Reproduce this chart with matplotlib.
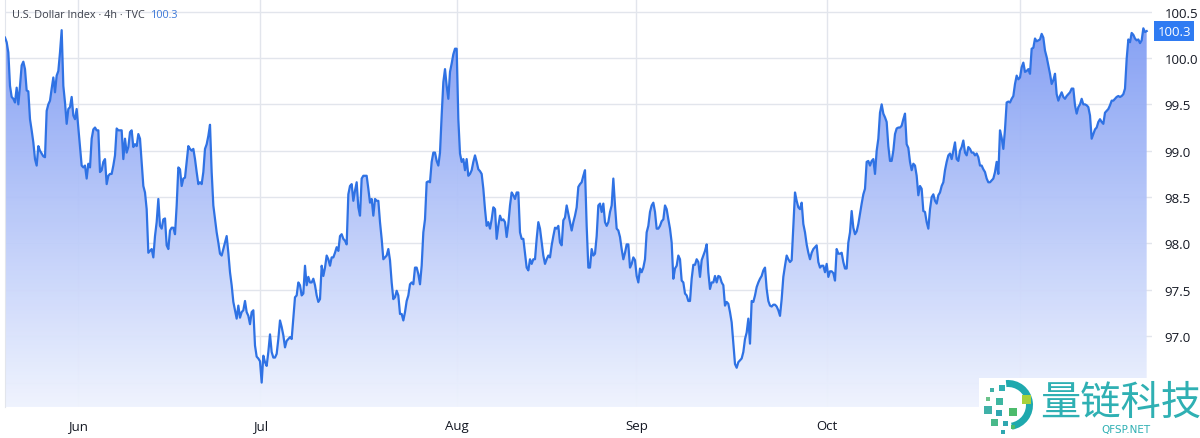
import numpy as np
import matplotlib
matplotlib.use("Agg")
import matplotlib.pyplot as plt
from matplotlib.patches import Rectangle, Wedge
from matplotlib.colors import LinearSegmentedColormap

# ---------------- data (U.S. Dollar Index, 4h bars) ----------------
price = [
    100.22, 100.17, 100.06, 99.70, 99.58, 99.56, 99.52, 99.68, 99.50, 99.70, 99.92,
    99.96, 99.88, 99.65, 99.64, 99.34, 99.22, 99.09, 98.91, 98.84, 99.05, 99.00,
    98.97, 98.94, 98.93, 99.43, 99.50, 99.54, 99.67, 99.79, 99.63, 99.81, 99.86,
    100.06, 100.30, 99.70, 99.52, 99.29, 99.45, 99.47, 99.58, 99.38, 99.34, 99.45,
    99.25, 99.05, 98.84, 98.82, 98.84, 98.70, 98.86, 98.82, 99.13, 99.23, 99.25,
    99.22, 99.22, 98.77, 98.79, 98.88, 98.91, 98.64, 98.73, 98.75, 98.75, 98.84,
    98.95, 99.24, 99.22, 99.22, 99.22, 98.91, 99.13, 98.98, 99.04, 99.20, 99.22,
    99.04, 99.07, 99.05, 99.18, 99.13, 98.88, 98.62, 98.55, 98.37, 97.90, 97.92,
    97.94, 97.85, 98.08, 98.23, 98.48, 98.19, 98.16, 98.26, 98.27, 97.98, 97.94,
    98.14, 98.17, 98.17, 98.10, 98.41, 98.82, 98.80, 98.62, 98.70, 98.71, 98.88,
    99.05, 99.02, 99.00, 99.02, 98.91, 98.77, 98.64, 98.66, 98.64, 98.77, 99.02,
    99.07, 99.16, 99.28, 98.77, 98.41, 98.26, 98.12, 98.01, 97.89, 97.87, 97.94,
    98.01, 98.08, 97.90, 97.69, 97.55, 97.37, 97.28, 97.19, 97.33, 97.20, 97.26,
    97.28, 97.38, 97.26, 97.22, 97.13, 97.26, 97.28, 96.90, 96.78, 96.76, 96.73,
    96.50, 96.79, 96.72, 96.68, 96.83, 97.02, 96.83, 96.77, 96.77, 96.81, 96.97,
    97.17, 97.10, 97.01, 96.88, 96.95, 96.97, 96.99, 96.97, 97.19, 97.42, 97.44,
    97.58,
    97.55, 97.44, 97.46, 97.76, 97.55, 97.64, 97.58, 97.58, 97.62, 97.55, 97.44,
    97.37, 97.40, 97.76, 97.65, 97.74, 97.87, 97.83, 97.76, 97.85, 97.85, 97.90,
    97.96, 97.92, 98.08, 98.10, 98.05, 98.03, 97.99, 98.53, 98.62, 98.64, 98.46,
    98.57, 98.66, 98.39, 98.30, 98.70, 98.73, 98.73, 98.73, 98.59, 98.44, 98.48,
    98.30, 98.48, 98.46, 98.46, 98.23, 98.05, 97.83, 97.85, 97.87, 97.94, 97.82,
    97.58, 97.40, 97.42, 97.49, 97.44, 97.24, 97.24, 97.17, 97.26, 97.38, 97.44,
    97.56, 97.58, 97.56, 97.74, 97.74, 97.67, 97.56, 97.76, 98.12, 98.26, 98.66,
    98.67, 98.66, 98.88, 98.98, 98.98, 98.89, 98.84, 98.98, 99.38, 99.74, 99.88,
    99.70, 99.56, 99.85, 99.94, 100.04, 100.10, 100.10, 99.34, 98.97, 98.88, 98.91,
    98.79, 98.91, 98.73, 98.75, 98.79, 98.88, 98.95, 98.88, 98.80, 98.78, 98.75,
    98.59, 98.37, 98.19, 98.23, 98.16, 98.26, 98.39, 98.37, 98.05, 98.19, 98.30,
    98.25, 98.26, 98.23, 98.07, 98.21, 98.41, 98.55, 98.52, 98.48, 98.55, 98.55,
    98.12, 98.05, 98.05, 97.90, 97.74, 97.71, 97.83, 97.78, 97.83, 97.83, 98.05,
    98.23, 98.16, 98.01, 97.87, 97.78, 97.83, 97.87, 97.85, 97.98, 98.08, 98.17,
    98.16, 98.19, 98.01, 97.98, 98.25, 98.28, 98.41, 98.32, 98.23, 98.14, 98.23,
    98.30, 98.39, 98.61, 98.64, 98.66, 98.73, 98.79, 98.19, 97.74, 97.74, 97.94,
    97.87, 97.89, 98.08, 98.41,
    98.43, 98.34, 98.43, 98.23, 98.19, 98.23, 98.34, 98.41, 98.70, 98.41, 98.16,
    98.14, 98.07, 97.94, 97.83, 97.90, 97.99, 97.99, 97.74, 97.78, 97.85, 97.82,
    97.65, 97.58, 97.73, 97.69, 97.74, 97.83, 98.12, 98.19, 98.34, 98.41, 98.44,
    98.34, 98.16, 98.16, 98.19, 98.24, 98.26, 98.41, 98.37, 98.26, 98.16, 98.01,
    97.62, 97.73, 97.76, 97.87, 97.83, 97.60, 97.58, 97.46, 97.44, 97.38, 97.38,
    97.62, 97.77, 97.77, 97.83, 97.80, 97.64, 97.82, 97.87, 97.92, 97.99, 97.69,
    97.51, 97.58, 97.58, 97.65, 97.58, 97.65, 97.64, 97.58, 97.55, 97.33, 97.37,
    97.35, 97.26, 97.15, 96.92, 96.70, 96.66, 96.72, 96.74, 96.76, 96.83, 96.97,
    97.04, 97.19, 96.92, 97.38, 97.37, 97.44, 97.53, 97.58, 97.62, 97.65, 97.71,
    97.74, 97.51, 97.38, 97.33, 97.32, 97.34, 97.34, 97.32, 97.28, 97.22, 97.40,
    97.64, 97.76, 97.87, 97.83, 97.80, 97.82, 98.19, 98.55, 98.46, 98.39, 98.37,
    98.44, 98.21, 98.12, 97.99, 97.90, 97.83, 97.90, 97.94, 97.96, 97.98, 97.80,
    97.74, 97.76, 97.76, 97.69, 97.78, 97.64, 97.70, 97.70, 97.68, 97.60, 97.94,
    97.89, 97.89, 97.90, 97.80, 97.73, 97.73, 98.01, 98.12, 98.35, 98.17, 98.10,
    98.13, 98.21, 98.32, 98.43, 98.53, 98.59, 98.88, 98.89, 98.84, 98.89, 98.91,
    98.75, 99.00, 99.13, 99.41, 99.50, 99.40, 99.36, 99.31, 99.05, 98.89, 98.89,
    99.00, 99.18, 99.24, 99.25,
    99.25, 99.27, 99.34, 99.40, 99.07, 99.03, 98.88, 98.79, 98.86, 98.84, 98.73,
    98.52, 98.62, 98.59, 98.35, 98.34, 98.23, 98.16, 98.37, 98.50, 98.53, 98.46,
    98.43, 98.52, 98.55, 98.62, 98.66, 98.79, 98.88, 98.95, 98.97, 98.91, 99.00,
    99.09, 98.91, 98.89, 99.00, 99.04, 99.11, 98.98, 98.95, 99.04, 99.02, 98.98,
    98.98, 98.95, 98.97, 98.93, 98.84, 98.84, 98.80, 98.77, 98.70, 98.66, 98.66,
    98.68, 98.70, 98.77, 98.88, 98.75, 99.22, 99.14, 99.02, 99.23, 99.52, 99.53,
    99.52, 99.56, 99.59, 99.72, 99.81, 99.77, 99.79, 99.90, 99.95, 99.85, 99.86,
    99.88, 99.83, 100.10, 100.11, 100.21, 100.18, 100.19, 100.20, 100.26, 100.22,
    100.08, 100.01, 99.92, 99.83, 99.72, 99.76, 99.83, 99.61, 99.54, 99.59, 99.63,
    99.58, 99.56, 99.59, 99.61, 99.63, 99.67, 99.67, 99.49, 99.40, 99.47, 99.50,
    99.56, 99.50, 99.50, 99.49, 99.47, 99.38, 99.13, 99.18, 99.23, 99.25, 99.31,
    99.34, 99.31, 99.29, 99.41, 99.43, 99.45, 99.49, 99.54, 99.54, 99.56, 99.58,
    99.59, 99.58, 99.59, 99.61, 99.67, 99.99, 100.20, 100.17, 100.27, 100.25, 100.21,
    100.19, 100.20, 100.16, 100.19, 100.32, 100.28, 100.29,
]

# bar index at which each month starts (trading bars)
month_labels = ["Jun", "Jul", "Aug", "Sep", "Oct", "Nov"]
month_starts = [43.6, 153.2, 271.2, 378.8, 493.0, 609.2]

y_ticks = [96.5, 97.0, 97.5, 98.0, 98.5, 99.0, 99.5, 100.0, 100.5]
y_tick_labels = ["96.5", "97.0", "97.5", "98.0", "98.5", "99.0", "99.5", "100.0", "100.5"]

title_text = "U.S. Dollar Index · 4h · TVC"
last_label = "100.3"

# ---------------- figure ----------------
W, H = 1200, 439
fig = plt.figure(figsize=(W / 100, H / 100), dpi=100)
fig.patch.set_facecolor("white")

def fx(px):
    return px / W

def fy(py):
    return 1 - py / H

ax = fig.add_axes([fx(5), fy(408), fx(1152) - fx(5), 408 / H])
ax.set_facecolor("white")

x = np.arange(len(price))
y = np.array(price)

ymin, ymax = 96.237, 100.636
ax.set_xlim(0, 688.2)
ax.set_ylim(ymin, ymax)

# grid
grid_c = "#E2E5EC"
for t in y_ticks:
    ax.axhline(t, color=grid_c, lw=1.0, zorder=0)
for m in month_starts:
    ax.axvline(m, color=grid_c, lw=1.0, zorder=0)

# gradient area
cmap = LinearSegmentedColormap.from_list(
    "area", [(0.0, "#EFF3FE"), (1.0, "#7896F3")])
grad = np.linspace(0, 1, 256).reshape(-1, 1)
poly = ax.fill_between(x, y, ymin, color="none", lw=0)
img = ax.imshow(grad, aspect="auto", cmap=cmap, origin="lower",
                extent=[0, 688.2, ymin, ymax], zorder=1, alpha=0.95)
path = poly.get_paths()[0]
img.set_clip_path(path, transform=ax.transData)
ax.set_xlim(0, 688.2)
ax.set_ylim(ymin, ymax)

ax.plot(x, y, color="#2F72E4", lw=1.6, zorder=3, solid_joinstyle="round")

# axes styling
for s in ["top", "right", "bottom"]:
    ax.spines[s].set_visible(False)
ax.spines["left"].set_color("#E2E5EC")

ax.yaxis.tick_right()
ax.set_yticks(y_ticks)
ax.set_yticklabels(y_tick_labels)
ax.set_xticks(month_starts)
ax.set_xticklabels(month_labels)
ax.tick_params(axis="both", length=0, labelsize=9.5, labelcolor="#131722")
ax.tick_params(axis="y", pad=9)
ax.tick_params(axis="x", pad=9)
for lab in ax.get_xticklabels() + ax.get_yticklabels():
    lab.set_fontfamily("Open Sans")

# title
t1 = fig.text(fx(12), fy(16), title_text, fontsize=7.8, color="#3B3F4A",
              family="Open Sans", va="center", ha="left")
fig.canvas.draw()
bb = t1.get_window_extent(renderer=fig.canvas.get_renderer())
fig.text((bb.x1 + 6) / W, fy(16), last_label, fontsize=7.8, color="#3C78D8",
         family="Open Sans", va="center", ha="left")

# last price badge
ax.annotate(last_label, xy=(1.0, price[-1]), xycoords=("axes fraction", "data"),
            xytext=(4, 0), textcoords="offset points", ha="left", va="center",
            fontsize=9.5, color="white", family="Open Sans",
            bbox=dict(boxstyle="square,pad=0.25", fc="#2F7BF2", ec="none"),
            annotation_clip=False, zorder=10)

# watermark
wm = fig.add_axes([0, 0, 1, 1], zorder=20)
wm.set_xlim(0, W)
wm.set_ylim(H, 0)
wm.axis("off")
wm.patch.set_alpha(0)
wm.add_patch(Rectangle((979, 379), 221, 60, fc="white", ec="none"))
teal = "#2FB0B3"
wm.add_patch(Wedge((1008, 406), 25, -95, 80, width=7, fc="#1FA9AE", ec="none"))
sq = [
    (1022, 396, 9, "#A7D13A"), (1009, 409, 8, "#4CBB6C"), (996, 399, 7, "#3DB6A0"),
    (984, 407, 8, "#3FB1A8"), (996, 411, 6, "#2FA7B0"), (991, 420, 7, "#49B98A"),
    (1003, 422, 5, "#2FA7B0"), (990, 389, 4, "#3FB1A8"), (999, 386, 6, "#2FB0B3"),
    (986, 398, 4, "#6CC38A"), (1011, 426, 4, "#4CBB6C"), (1001, 431, 4, "#2FA7B0"),
]
for (sx, sy, s, c) in sq:
    wm.add_patch(Rectangle((sx, sy), s, s, fc=c, ec="none"))
wm.text(1040, 403, "量链科技", fontsize=29, color=teal,
        family=["Noto Sans CJK SC", "DejaVu Sans"], va="center", ha="left")
wm.text(1126, 430, "QFSP.NET", fontsize=7.5, color=teal, family="DejaVu Sans",
        va="center", ha="center")

fig.savefig("out.png", dpi=100, facecolor="white")
